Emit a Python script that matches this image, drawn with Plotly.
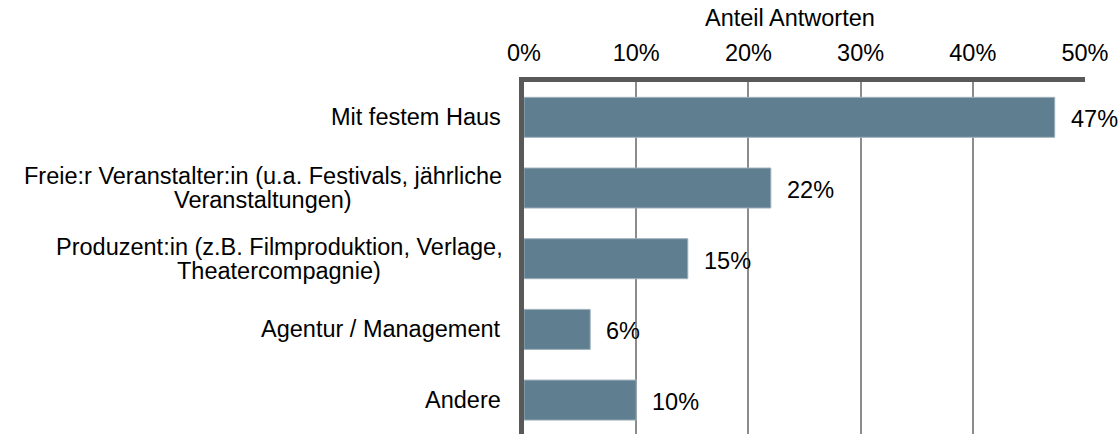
import plotly.graph_objects as go

# ---- data ----
categories = [
    "Mit festem Haus",
    "Freie:r Veranstalter:in (u.a. Festivals, jährliche<br>Veranstaltungen)",
    "Produzent:in (z.B. Filmproduktion, Verlage,<br>Theatercompagnie)",
    "Agentur / Management",
    "Andere",
]
shares = [0.473, 0.22, 0.146, 0.059, 0.10]
value_labels = ["47%", "22%", "15%", "6%", "10%"]
x_title = "Anteil Antworten"
x_ticks = [0, 0.1, 0.2, 0.3, 0.4, 0.5]

# ---- style / layout ----
W, H = 1120, 434
ML, MR, MT, MB = 524, 35, 82, 0
FONT = "Liberation Sans, Arial, sans-serif"
FS = 23.5
BAR_COLOR = "#5f7e90"
AXIS_COLOR = "#595959"
GRID_COLOR = "#8c8c8c"
LABEL_RIGHT_GAP = 21   # px between category label and plot area
LINE_GAP = 12          # half line spacing for 2-line labels

# Arial / Liberation Sans advance widths (per 1000 em)
AW = {" ": 278, "(": 333, ")": 333, ",": 278, ".": 278, "/": 278, ":": 278,
      "A": 667, "B": 667, "F": 611, "H": 722, "M": 833, "P": 667, "T": 611, "V": 667,
      "a": 556, "b": 556, "c": 500, "d": 556, "e": 556, "f": 278, "g": 556, "h": 556,
      "i": 222, "j": 222, "k": 500, "l": 222, "m": 833, "n": 556, "o": 556, "p": 556,
      "r": 333, "s": 500, "t": 278, "u": 556, "v": 500, "w": 722, "z": 500, "ä": 556}


def text_width(s):
    return sum(AW.get(ch, 556) for ch in s) * FS / 1000.0


fig = go.Figure()
fig.add_trace(go.Bar(
    x=shares, y=categories, orientation="h",
    width=0.566,
    marker=dict(color=BAR_COLOR, line=dict(color="#9fb1bc", width=1)),
    hoverinfo="skip",
))

plot_w = W - ML - MR
plot_h = H - MT - MB

annotations = []
# category labels (Excel style: block right-aligned, lines centred)
for cat in categories:
    lines = cat.split("<br>")
    if len(lines) == 1:
        annotations.append(dict(
            x=0, xref="paper", y=cat, yref="y", text=lines[0],
            xanchor="right", yanchor="middle", xshift=-LABEL_RIGHT_GAP,
            showarrow=False, font=dict(family=FONT, size=FS, color="black")))
    else:
        wmax = max(text_width(l) for l in lines)
        n = len(lines)
        for i, l in enumerate(lines):
            yshift = (n - 1) * LINE_GAP - i * 2 * LINE_GAP
            annotations.append(dict(
                x=0, xref="paper", y=cat, yref="y", text=l,
                xanchor="center", yanchor="middle",
                xshift=-LABEL_RIGHT_GAP - wmax / 2.0, yshift=yshift,
                showarrow=False, font=dict(family=FONT, size=FS, color="black")))

# value labels
for cat, v, lab in zip(categories, shares, value_labels):
    annotations.append(dict(
        x=v, xref="x", y=cat, yref="y", text=lab,
        xanchor="left", yanchor="middle", xshift=14, yshift=-2,
        showarrow=False, font=dict(family=FONT, size=FS, color="black")))

# axis title
annotations.append(dict(
    x=(790 - ML) / plot_w, xref="paper", y=1 + (MT - 18) / plot_h, yref="paper",
    text=x_title, xanchor="center", yanchor="middle", showarrow=False,
    font=dict(family=FONT, size=FS, color="black")))

fig.update_layout(
    width=W, height=H,
    margin=dict(l=ML, r=MR, t=MT, b=MB),
    paper_bgcolor="white", plot_bgcolor="white",
    showlegend=False,
    font=dict(family=FONT, size=FS, color="black"),
    annotations=annotations,
    xaxis=dict(
        side="top", range=[0, 0.5], tickvals=x_ticks, tickformat=".0%",
        showgrid=True, gridcolor=GRID_COLOR, gridwidth=1.5,
        showline=True, linecolor=AXIS_COLOR, linewidth=5,
        ticks="", ticklabelstandoff=7, zeroline=False,
        tickfont=dict(family=FONT, size=FS, color="black"),
        fixedrange=True,
    ),
    yaxis=dict(
        type="category", categoryorder="array", categoryarray=categories,
        range=[4.48, -0.5], showticklabels=False,
        showgrid=False, showline=True, linecolor=AXIS_COLOR, linewidth=5,
        ticks="", zeroline=False, fixedrange=True,
    ),
)

fig.write_html(
    "out.html",
    config={"displayModeBar": False},
    post_script="document.body.style.margin='0';document.body.style.overflow='hidden';",
)
